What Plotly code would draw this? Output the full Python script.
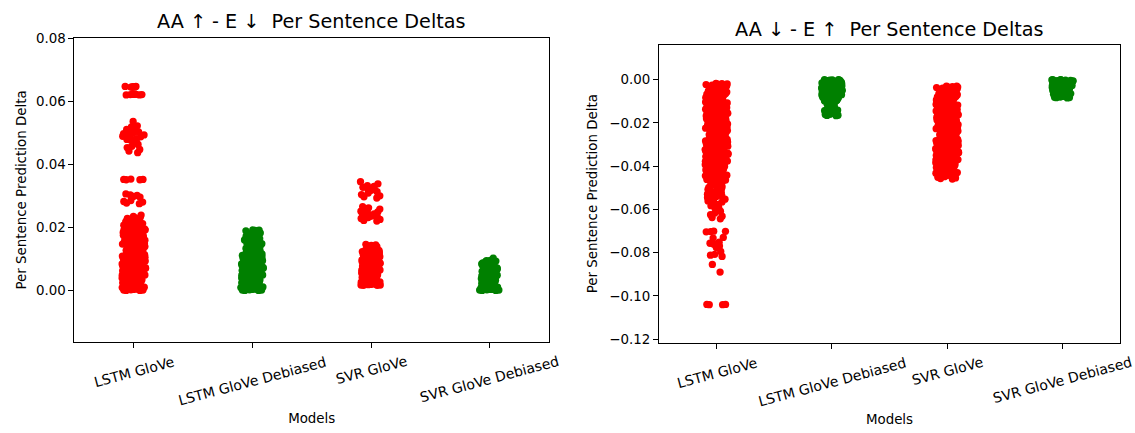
import plotly.graph_objects as go

# ---------------- categories / labels ----------------
categories = ["LSTM GloVe", "LSTM GloVe Debiased", "SVR GloVe", "SVR GloVe Debiased"]
titles = ["AA ↑ - E ↓  Per Sentence Deltas", "AA ↓ - E ↑  Per Sentence Deltas"]
x_title = "Models"
y_title = "Per Sentence Prediction Delta"
left_ticks = [0.00, 0.02, 0.04, 0.06, 0.08]
right_ticks = [0.00, -0.02, -0.04, -0.06, -0.08, -0.10, -0.12]

# ---------------- left panel: AA up - E down ----------------
up_lstm_glove_low = [
    0.0000, 0.0001, 0.0003, 0.0004, 0.0006, 0.0009, 0.0010, 0.0012, 0.0015, 0.0017,
    0.0018, 0.0021, 0.0023, 0.0026, 0.0027, 0.0031, 0.0032, 0.0035, 0.0037, 0.0039,
    0.0041, 0.0044, 0.0046, 0.0048, 0.0050, 0.0053, 0.0054, 0.0057, 0.0059, 0.0062,
    0.0064, 0.0065, 0.0068, 0.0071, 0.0073, 0.0075, 0.0077, 0.0080, 0.0082, 0.0084,
    0.0086, 0.0089, 0.0091, 0.0092, 0.0095, 0.0098, 0.0101, 0.0102, 0.0105, 0.0107,
    0.0109, 0.0111, 0.0114, 0.0116, 0.0118, 0.0120, 0.0123, 0.0124, 0.0127, 0.0129,
    0.0131, 0.0134, 0.0136, 0.0138, 0.0141, 0.0143, 0.0145, 0.0148, 0.0149, 0.0152,
    0.0154, 0.0157, 0.0158, 0.0161, 0.0163, 0.0166, 0.0167, 0.0170, 0.0172, 0.0175,
    0.0176, 0.0179, 0.0181, 0.0183, 0.0186, 0.0188, 0.0190, 0.0192, 0.0195, 0.0197,
    0.0199, 0.0202, 0.0204, 0.0207, 0.0209, 0.0212, 0.0215, 0.0217, 0.0220, 0.0223,
    0.0226, 0.0228, 0.0232, 0.0235, 0.0239, 0.0002, 0.0007, 0.0013, 0.0020, 0.0028,
    0.0034, 0.0042, 0.0049, 0.0056, 0.0066, 0.0074, 0.0083, 0.0090, 0.0099, 0.0110,
    0.0119, 0.0128, 0.0137, 0.0146, 0.0155, 0.0164, 0.0173, 0.0184, 0.0193, 0.0201,
    0.0005, 0.0011, 0.0024, 0.0038, 0.0052, 0.0069, 0.0087, 0.0104, 0.0121, 0.0139,
    0.0159, 0.0178, 0.0208, 0.0231, 0.0001, 0.0004, 0.0008, 0.0014, 0.0019, 0.0025,
    0.0029, 0.0036, 0.0040, 0.0045, 0.0051, 0.0058, 0.0061, 0.0067, 0.0072, 0.0078,
    0.0085, 0.0088, 0.0094, 0.0097, 0.0103, 0.0108, 0.0113, 0.0117, 0.0122, 0.0126,
    0.0132, 0.0135, 0.0142, 0.0147, 0.0151, 0.0156, 0.0162, 0.0168, 0.0171, 0.0177,
    0.0182, 0.0187, 0.0191, 0.0196, 0.0203, 0.0211, 0.0218, 0.0225, 0.0003, 0.0016,
    0.0030, 0.0043, 0.0060, 0.0076, 0.0093, 0.0112, 0.0130, 0.0150, 0.0169, 0.0189,
    0.0214, 0.0000, 0.0009, 0.0022, 0.0047, 0.0070, 0.0096, 0.0115, 0.0144, 0.0174,
    0.0198,
]
up_lstm_glove_028 = [0.0306, 0.0303, 0.0301, 0.0298, 0.0296, 0.0285, 0.0282, 0.0280, 0.0277, 0.0275]
up_lstm_glove_035 = [0.0352, 0.0351, 0.0353, 0.0351, 0.0352]
up_lstm_glove_048 = [
    0.0536, 0.0522, 0.0519, 0.0514, 0.0511, 0.0508, 0.0505, 0.0503, 0.0501, 0.0499,
    0.0497, 0.0495, 0.0493, 0.0491, 0.0489, 0.0487, 0.0484, 0.0481, 0.0479, 0.0476,
    0.0472, 0.0468, 0.0463, 0.0457, 0.0453, 0.0447, 0.0442, 0.0437,
]
up_lstm_glove_063 = [0.0647, 0.0646, 0.0647, 0.0645, 0.0646, 0.0644, 0.0622,
                     0.0621, 0.0623, 0.0620, 0.0622, 0.0621, 0.0620, 0.0622]

up_lstm_debiased = [
    0.0000, 0.0001, 0.0002, 0.0003, 0.0005, 0.0006, 0.0008, 0.0009, 0.0011, 0.0012,
    0.0014, 0.0016, 0.0017, 0.0019, 0.0021, 0.0023, 0.0024, 0.0026, 0.0028, 0.0030,
    0.0031, 0.0033, 0.0035, 0.0037, 0.0039, 0.0040, 0.0042, 0.0044, 0.0046, 0.0048,
    0.0049, 0.0051, 0.0053, 0.0055, 0.0057, 0.0058, 0.0060, 0.0062, 0.0064, 0.0066,
    0.0067, 0.0069, 0.0071, 0.0073, 0.0075, 0.0077, 0.0079, 0.0080, 0.0082, 0.0084,
    0.0086, 0.0088, 0.0090, 0.0092, 0.0094, 0.0096, 0.0098, 0.0100, 0.0102, 0.0104,
    0.0106, 0.0108, 0.0110, 0.0113, 0.0115, 0.0117, 0.0119, 0.0121, 0.0124, 0.0126,
    0.0128, 0.0131, 0.0133, 0.0135, 0.0138, 0.0140, 0.0142, 0.0145, 0.0147, 0.0150,
    0.0153, 0.0155, 0.0158, 0.0161, 0.0164, 0.0167, 0.0170, 0.0174, 0.0178, 0.0182,
    0.0186, 0.0189, 0.0190, 0.0191, 0.0192, 0.0004, 0.0013, 0.0022, 0.0034, 0.0045,
    0.0056, 0.0068, 0.0081, 0.0093, 0.0107, 0.0122, 0.0136, 0.0151, 0.0007, 0.0027,
    0.0000, 0.0002, 0.0005, 0.0010, 0.0015, 0.0018, 0.0025, 0.0029, 0.0036, 0.0041,
    0.0047, 0.0052, 0.0059, 0.0063, 0.0070, 0.0074, 0.0078, 0.0085, 0.0089, 0.0095,
    0.0099, 0.0105, 0.0111, 0.0116, 0.0120, 0.0127, 0.0132, 0.0137, 0.0143, 0.0148,
    0.0154, 0.0160, 0.0166, 0.0172, 0.0176, 0.0180, 0.0184, 0.0001, 0.0011, 0.0020,
    0.0032, 0.0043, 0.0054, 0.0065, 0.0076, 0.0087, 0.0101, 0.0114, 0.0129, 0.0144,
]

up_svr_glove_low = [
    0.0016, 0.0017, 0.0019, 0.0020, 0.0022, 0.0023, 0.0025, 0.0026, 0.0028, 0.0030,
    0.0031, 0.0033, 0.0035, 0.0036, 0.0038, 0.0040, 0.0041, 0.0043, 0.0045, 0.0047,
    0.0048, 0.0050, 0.0052, 0.0053, 0.0055, 0.0057, 0.0059, 0.0060, 0.0062, 0.0064,
    0.0066, 0.0067, 0.0069, 0.0071, 0.0073, 0.0074, 0.0076, 0.0078, 0.0080, 0.0081,
    0.0083, 0.0085, 0.0087, 0.0088, 0.0090, 0.0092, 0.0094, 0.0096, 0.0097, 0.0099,
    0.0101, 0.0103, 0.0105, 0.0107, 0.0109, 0.0111, 0.0113, 0.0115, 0.0117, 0.0119,
    0.0121, 0.0123, 0.0125, 0.0128, 0.0130, 0.0132, 0.0134, 0.0137, 0.0139, 0.0141,
    0.0143, 0.0146, 0.0018, 0.0027, 0.0039, 0.0051, 0.0063, 0.0075, 0.0086, 0.0098,
    0.0110, 0.0122, 0.0021, 0.0034, 0.0058, 0.0016, 0.0019, 0.0024, 0.0029, 0.0032,
    0.0037, 0.0042, 0.0046, 0.0049, 0.0054, 0.0056, 0.0061, 0.0065, 0.0068, 0.0072,
    0.0077, 0.0079, 0.0084, 0.0089, 0.0091, 0.0095, 0.0100, 0.0104, 0.0106, 0.0112,
    0.0116, 0.0118, 0.0124, 0.0127, 0.0131, 0.0135, 0.0140, 0.0144, 0.0017, 0.0026,
    0.0044, 0.0070, 0.0093, 0.0108, 0.0126,
]
up_svr_glove_024 = [0.0266, 0.0262, 0.0258, 0.0255, 0.0251, 0.0249, 0.0246, 0.0243, 0.0241,
                    0.0239, 0.0237, 0.0235, 0.0233, 0.0231, 0.0228, 0.0225, 0.0222, 0.0220]
up_svr_glove_031 = [0.0345, 0.0338, 0.0332, 0.0330, 0.0327, 0.0324, 0.0320, 0.0317,
                    0.0313, 0.0309, 0.0304, 0.0300, 0.0297, 0.0293]

up_svr_debiased = [
    0.0000, 0.0001, 0.0002, 0.0003, 0.0004, 0.0006, 0.0007, 0.0008, 0.0010, 0.0011,
    0.0012, 0.0014, 0.0015, 0.0017, 0.0018, 0.0019, 0.0021, 0.0022, 0.0024, 0.0025,
    0.0027, 0.0028, 0.0030, 0.0031, 0.0033, 0.0034, 0.0036, 0.0038, 0.0039, 0.0041,
    0.0043, 0.0044, 0.0046, 0.0048, 0.0050, 0.0051, 0.0053, 0.0055, 0.0057, 0.0058,
    0.0060, 0.0062, 0.0064, 0.0066, 0.0068, 0.0070, 0.0072, 0.0074, 0.0076, 0.0079,
    0.0081, 0.0083, 0.0085, 0.0087, 0.0089, 0.0091, 0.0093, 0.0094, 0.0095, 0.0102,
    0.0005, 0.0016, 0.0029, 0.0042, 0.0056, 0.0071, 0.0086, 0.0000, 0.0001, 0.0003,
    0.0006, 0.0009, 0.0013, 0.0017, 0.0020, 0.0023, 0.0026, 0.0032, 0.0035, 0.0037,
    0.0040, 0.0045, 0.0049, 0.0052, 0.0054, 0.0059, 0.0061, 0.0065, 0.0067, 0.0073,
    0.0078, 0.0080, 0.0084, 0.0088, 0.0090, 0.0092, 0.0002,
]

# ---------------- right panel: AA down - E up ----------------
down_lstm_glove_main = [
    -0.0018, -0.0021, -0.0025, -0.0030, -0.0034, -0.0037, -0.0042, -0.0046, -0.0049, -0.0054,
    -0.0058, -0.0061, -0.0066, -0.0070, -0.0073, -0.0078, -0.0082, -0.0085, -0.0090, -0.0094,
    -0.0097, -0.0102, -0.0106, -0.0109, -0.0114, -0.0118, -0.0121, -0.0126, -0.0130, -0.0133,
    -0.0138, -0.0142, -0.0145, -0.0150, -0.0154, -0.0157, -0.0162, -0.0166, -0.0169, -0.0174,
    -0.0178, -0.0181, -0.0186, -0.0190, -0.0193, -0.0198, -0.0202, -0.0205, -0.0210, -0.0214,
    -0.0217, -0.0222, -0.0226, -0.0229, -0.0234, -0.0238, -0.0241, -0.0246, -0.0250, -0.0253,
    -0.0258, -0.0262, -0.0265, -0.0270, -0.0274, -0.0277, -0.0282, -0.0286, -0.0289, -0.0294,
    -0.0298, -0.0301, -0.0306, -0.0310, -0.0313, -0.0318, -0.0322, -0.0325, -0.0330, -0.0334,
    -0.0337, -0.0342, -0.0346, -0.0349, -0.0354, -0.0358, -0.0361, -0.0366, -0.0370, -0.0373,
    -0.0378, -0.0382, -0.0385, -0.0390, -0.0394, -0.0397, -0.0402, -0.0406, -0.0409, -0.0414,
    -0.0418, -0.0421, -0.0426, -0.0430, -0.0433, -0.0438, -0.0442, -0.0445, -0.0450, -0.0454,
    -0.0457, -0.0462, -0.0466, -0.0470, -0.0023, -0.0032, -0.0040, -0.0051, -0.0063, -0.0075,
    -0.0087, -0.0099, -0.0111, -0.0123, -0.0135, -0.0147, -0.0159, -0.0171, -0.0183, -0.0195,
    -0.0207, -0.0219, -0.0231, -0.0243, -0.0255, -0.0267, -0.0279, -0.0291, -0.0303, -0.0315,
    -0.0327, -0.0339, -0.0351, -0.0363, -0.0375, -0.0387, -0.0399, -0.0411, -0.0423, -0.0435,
    -0.0447, -0.0459, -0.0028, -0.0047, -0.0068, -0.0089, -0.0116, -0.0137, -0.0161, -0.0184,
    -0.0209, -0.0232, -0.0257, -0.0281, -0.0305, -0.0329, -0.0353, -0.0377, -0.0401, -0.0425,
    -0.0448, -0.0019, -0.0020, -0.0026, -0.0029, -0.0036, -0.0039, -0.0044, -0.0052, -0.0056,
    -0.0060, -0.0064, -0.0069, -0.0072, -0.0077, -0.0080, -0.0084, -0.0092, -0.0096, -0.0101,
    -0.0104, -0.0108, -0.0113, -0.0119, -0.0124, -0.0128, -0.0132, -0.0140, -0.0144, -0.0149,
    -0.0153, -0.0156, -0.0164, -0.0168, -0.0173, -0.0177, -0.0180, -0.0188, -0.0192, -0.0197,
    -0.0201, -0.0204, -0.0212, -0.0216, -0.0221, -0.0225, -0.0228, -0.0236, -0.0240, -0.0245,
    -0.0249, -0.0252, -0.0260, -0.0264, -0.0269, -0.0273, -0.0276, -0.0284, -0.0288, -0.0293,
    -0.0297, -0.0300, -0.0308, -0.0312, -0.0317, -0.0321, -0.0324, -0.0332, -0.0336, -0.0341,
    -0.0345, -0.0348, -0.0356, -0.0360, -0.0365, -0.0369, -0.0372, -0.0380, -0.0384, -0.0389,
    -0.0393, -0.0396, -0.0404, -0.0408, -0.0413, -0.0417, -0.0420, -0.0428, -0.0432, -0.0437,
    -0.0441, -0.0444, -0.0452, -0.0456, -0.0461, -0.0465,
]
down_lstm_glove_tail = [
    -0.0473, -0.0478, -0.0481, -0.0486, -0.0490, -0.0494, -0.0499, -0.0503, -0.0508, -0.0512,
    -0.0516, -0.0521, -0.0526, -0.0530, -0.0534, -0.0537, -0.0541, -0.0545, -0.0549, -0.0553,
    -0.0557, -0.0561, -0.0566, -0.0571, -0.0577, -0.0583, -0.0588, -0.0594, -0.0601, -0.0609,
    -0.0617, -0.0625, -0.0632, -0.0638, -0.0644, -0.0535, -0.0542, -0.0528,
]
down_lstm_glove_070 = [-0.0701, -0.0703, -0.0702, -0.0704, -0.0733, -0.0730, -0.0752, -0.0757,
                       -0.0761, -0.0770, -0.0776, -0.0795, -0.0812, -0.0818, -0.0808, -0.0855, -0.0890]
down_lstm_glove_104 = [-0.1040, -0.1041, -0.1040, -0.1041]

down_lstm_debiased = [
    -0.0001, -0.0002, -0.0004, -0.0005, -0.0007, -0.0009, -0.0010, -0.0012, -0.0014, -0.0015,
    -0.0017, -0.0019, -0.0021, -0.0022, -0.0024, -0.0026, -0.0028, -0.0029, -0.0031, -0.0033,
    -0.0035, -0.0037, -0.0038, -0.0040, -0.0042, -0.0044, -0.0046, -0.0048, -0.0049, -0.0051,
    -0.0053, -0.0055, -0.0057, -0.0059, -0.0061, -0.0063, -0.0065, -0.0067, -0.0069, -0.0071,
    -0.0073, -0.0075, -0.0077, -0.0079, -0.0081, -0.0083, -0.0085, -0.0088, -0.0090, -0.0092,
    -0.0094, -0.0097, -0.0099, -0.0101, -0.0104, -0.0107, -0.0110, -0.0113, -0.0117, -0.0121,
    -0.0125, -0.0130, -0.0134, -0.0138, -0.0141, -0.0144, -0.0147, -0.0150, -0.0153, -0.0156,
    -0.0159, -0.0162, -0.0165, -0.0167, -0.0003, -0.0013, -0.0025, -0.0036, -0.0047, -0.0058,
    -0.0070, -0.0082, -0.0095, -0.0139, -0.0151, 0.0000, -0.0003, -0.0006, -0.0008, -0.0011,
    -0.0016, -0.0018, -0.0020, -0.0023, -0.0027, -0.0030, -0.0032, -0.0034, -0.0039, -0.0041,
    -0.0043, -0.0045, -0.0050, -0.0052, -0.0054, -0.0056, -0.0060, -0.0062, -0.0064, -0.0066,
    -0.0068, -0.0072, -0.0074, -0.0076, -0.0080, -0.0084, -0.0087, -0.0091, -0.0096, -0.0102,
    -0.0143, -0.0149, -0.0155, -0.0161, -0.0166,
]

down_svr_glove = [
    -0.0030, -0.0033, -0.0037, -0.0041, -0.0044, -0.0049, -0.0053, -0.0056, -0.0061, -0.0065,
    -0.0068, -0.0073, -0.0077, -0.0080, -0.0085, -0.0089, -0.0092, -0.0097, -0.0101, -0.0104,
    -0.0109, -0.0113, -0.0116, -0.0121, -0.0125, -0.0128, -0.0133, -0.0137, -0.0140, -0.0145,
    -0.0149, -0.0152, -0.0157, -0.0161, -0.0164, -0.0169, -0.0173, -0.0176, -0.0181, -0.0185,
    -0.0188, -0.0193, -0.0197, -0.0200, -0.0205, -0.0209, -0.0212, -0.0217, -0.0221, -0.0224,
    -0.0229, -0.0233, -0.0236, -0.0241, -0.0245, -0.0248, -0.0253, -0.0257, -0.0260, -0.0265,
    -0.0269, -0.0272, -0.0277, -0.0281, -0.0284, -0.0289, -0.0293, -0.0296, -0.0301, -0.0305,
    -0.0308, -0.0313, -0.0317, -0.0320, -0.0325, -0.0329, -0.0332, -0.0337, -0.0341, -0.0344,
    -0.0349, -0.0353, -0.0356, -0.0361, -0.0365, -0.0368, -0.0373, -0.0377, -0.0380, -0.0385,
    -0.0389, -0.0392, -0.0397, -0.0401, -0.0404, -0.0409, -0.0413, -0.0416, -0.0421, -0.0425,
    -0.0428, -0.0433, -0.0437, -0.0441, -0.0446, -0.0452, -0.0458, -0.0035, -0.0046, -0.0058,
    -0.0071, -0.0083, -0.0095, -0.0107, -0.0119, -0.0131, -0.0143, -0.0155, -0.0167, -0.0179,
    -0.0191, -0.0203, -0.0215, -0.0227, -0.0239, -0.0251, -0.0263, -0.0275, -0.0287, -0.0299,
    -0.0311, -0.0323, -0.0335, -0.0347, -0.0359, -0.0371, -0.0383, -0.0395, -0.0407, -0.0419,
    -0.0431, -0.0443, -0.0039, -0.0062, -0.0087, -0.0111, -0.0135, -0.0159, -0.0183, -0.0207,
    -0.0231, -0.0255, -0.0279, -0.0303, -0.0327, -0.0351, -0.0375, -0.0399, -0.0423, -0.0439,
    -0.0031, -0.0035, -0.0040, -0.0043, -0.0047, -0.0051, -0.0055, -0.0059, -0.0063, -0.0067,
    -0.0070, -0.0075, -0.0079, -0.0082, -0.0087, -0.0091, -0.0094, -0.0099, -0.0103, -0.0106,
    -0.0111, -0.0115, -0.0118, -0.0123, -0.0127, -0.0130, -0.0134, -0.0139, -0.0142, -0.0147,
    -0.0151, -0.0154, -0.0158, -0.0163, -0.0166, -0.0171, -0.0175, -0.0178, -0.0182, -0.0187,
    -0.0190, -0.0195, -0.0199, -0.0202, -0.0207, -0.0210, -0.0214, -0.0219, -0.0223, -0.0226,
    -0.0231, -0.0235, -0.0238, -0.0243, -0.0247, -0.0250, -0.0255, -0.0258, -0.0262, -0.0267,
    -0.0271, -0.0274, -0.0279, -0.0282, -0.0286, -0.0291, -0.0295, -0.0298, -0.0303, -0.0306,
    -0.0310, -0.0315, -0.0319, -0.0322, -0.0327, -0.0330, -0.0334, -0.0339, -0.0343, -0.0346,
    -0.0351, -0.0355, -0.0358, -0.0363, -0.0367, -0.0370, -0.0375, -0.0379, -0.0382, -0.0387,
    -0.0391, -0.0394, -0.0399, -0.0403, -0.0406, -0.0411, -0.0415, -0.0418, -0.0423, -0.0427,
    -0.0430, -0.0435, -0.0439, -0.0444, -0.0449, -0.0455, -0.0460,
]

down_svr_debiased = [
    -0.0001, -0.0002, -0.0003, -0.0005, -0.0006, -0.0007, -0.0009, -0.0010, -0.0011, -0.0013,
    -0.0014, -0.0016, -0.0017, -0.0018, -0.0020, -0.0021, -0.0023, -0.0024, -0.0026, -0.0027,
    -0.0029, -0.0030, -0.0032, -0.0033, -0.0035, -0.0037, -0.0038, -0.0040, -0.0042, -0.0043,
    -0.0045, -0.0047, -0.0049, -0.0051, -0.0053, -0.0055, -0.0057, -0.0059, -0.0061, -0.0063,
    -0.0065, -0.0068, -0.0070, -0.0073, -0.0076, -0.0079, -0.0082, -0.0084, 0.0000, -0.0002,
    -0.0004, -0.0008, -0.0012, -0.0015, -0.0019, -0.0022, -0.0025, -0.0028, -0.0031, -0.0034,
    -0.0036, -0.0039, -0.0041, -0.0044, -0.0046, -0.0048, -0.0050, -0.0052, -0.0054, -0.0056,
    -0.0058, -0.0060, -0.0062, -0.0064, -0.0067, -0.0069, -0.0072, -0.0075, -0.0078, -0.0081,
    -0.0083, -0.0085,
]

RED = "#ff0000"
GREEN = "#008000"
FONT = "DejaVu Sans"

left_groups = [
    (categories[0], RED, up_lstm_glove_low),
    (categories[0], RED, up_lstm_glove_028),
    (categories[0], RED, up_lstm_glove_035),
    (categories[0], RED, up_lstm_glove_048),
    (categories[0], RED, up_lstm_glove_063),
    (categories[1], GREEN, up_lstm_debiased),
    (categories[2], RED, up_svr_glove_low),
    (categories[2], RED, up_svr_glove_024),
    (categories[2], RED, up_svr_glove_031),
    (categories[3], GREEN, up_svr_debiased),
]
right_groups = [
    (categories[0], RED, down_lstm_glove_main),
    (categories[0], RED, down_lstm_glove_tail),
    (categories[0], RED, down_lstm_glove_070),
    (categories[0], RED, down_lstm_glove_104),
    (categories[1], GREEN, down_lstm_debiased),
    (categories[2], RED, down_svr_glove),
    (categories[3], GREEN, down_svr_debiased),
]

fig = go.Figure()


def add_strip(cat, color, vals, xa, ya):
    fig.add_trace(go.Box(
        x=[cat] * len(vals), y=vals,
        boxpoints="all", jitter=1, pointpos=0, width=0.2,
        marker=dict(color=color, size=7.3, opacity=1, line=dict(width=0)),
        line=dict(width=0, color="rgba(0,0,0,0)"),
        fillcolor="rgba(0,0,0,0)",
        xaxis=xa, yaxis=ya, showlegend=False, hoverinfo="skip",
    ))


for cat, col, vals in left_groups:
    add_strip(cat, col, vals, "x", "y")
for cat, col, vals in right_groups:
    add_strip(cat, col, vals, "x2", "y2")

axis_common = dict(
    showline=True, mirror=True, linecolor="black", linewidth=1,
    ticks="outside", ticklen=5, tickwidth=1, tickcolor="black",
    showgrid=False, zeroline=False,
    tickfont=dict(family=FONT, size=13.4, color="black"),
    title_font=dict(family=FONT, size=13.4, color="black"),
)

x_common = dict(axis_common, type="category", categoryorder="array",
                categoryarray=categories, range=[-0.5, 3.5], showticklabels=False,
                title_text=x_title, title_standoff=66)

fig.update_layout(
    width=1135, height=433,
    margin=dict(l=0, r=0, t=0, b=0),
    paper_bgcolor="white", plot_bgcolor="white",
    boxmode="overlay",
    font=dict(family=FONT, color="black"),
    xaxis=dict(x_common, domain=[0.0656, 0.4837], anchor="y"),
    yaxis=dict(axis_common, domain=[0.2067, 0.9261], anchor="x",
               range=[-0.0163, 0.08], tickvals=left_ticks, tickformat=".2f",
               title_text=y_title, title_standoff=6),
    xaxis2=dict(x_common, domain=[0.5806, 0.9868], anchor="y2"),
    yaxis2=dict(axis_common, domain=[0.2044, 0.9111], anchor="x2",
                range=[-0.1217, 0.0162], tickvals=right_ticks, tickformat=".2f",
                title_text=y_title, title_standoff=8),
)

annotations = []
# subplot titles
annotations.append(dict(text=titles[0], xref="x domain", yref="paper", x=0.5, y=(433 - 14.7) / 433,
                        xanchor="center", yanchor="middle", showarrow=False,
                        font=dict(family=FONT, size=19.2, color="black")))
annotations.append(dict(text=titles[1], xref="x2 domain", yref="paper", x=0.5, y=(433 - 22.8) / 433,
                        xanchor="center", yanchor="middle", showarrow=False,
                        font=dict(family=FONT, size=19.2, color="black")))
# rotated category labels
for xr, yr in (("x", "y domain"), ("x2", "y2 domain")):
    for cat in categories:
        annotations.append(dict(text=cat, xref=xr, yref=yr, x=cat, y=0,
                                xanchor="center", yanchor="top", textangle=-15,
                                yshift=-9, showarrow=False,
                                font=dict(family=FONT, size=14, color="black")))
fig.update_layout(annotations=annotations)

fig.write_html("out.html")
